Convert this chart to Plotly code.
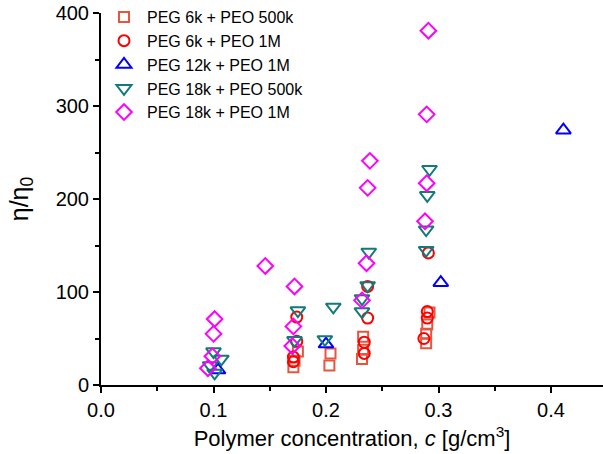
import plotly.graph_objects as go

# PEG 6k + PEO 500k
sq_x = [0.175, 0.172, 0.171, 0.204, 0.203, 0.233, 0.233, 0.232, 0.292, 0.290, 0.289, 0.289]
sq_y = [36, 26, 19, 34, 21, 52, 38, 28, 78, 65, 55, 45]
# PEG 6k + PEO 1M
ci_x = [0.174, 0.174, 0.171, 0.171, 0.237, 0.237, 0.234, 0.234, 0.291, 0.290, 0.290, 0.287]
ci_y = [73, 47, 30, 25, 106, 72, 46, 34, 142, 79, 72, 50]
# PEG 12k + PEO 1M
tu_x = [0.104, 0.200, 0.302, 0.411]
tu_y = [16, 44, 110, 274]
# PEG 18k + PEO 500k
td_x = [0.100, 0.107, 0.097, 0.101, 0.175, 0.172, 0.2065, 0.199, 0.238, 0.237, 0.232, 0.232, 0.292, 0.290, 0.289, 0.289]
td_y = [36, 28, 21, 13, 80, 48, 84, 49, 143, 107, 93, 79, 232, 204, 167, 145]
# PEG 18k + PEO 1M
di_x = [0.101, 0.100, 0.099, 0.095, 0.146, 0.172, 0.171, 0.170, 0.239, 0.237, 0.236, 0.232, 0.291, 0.2895, 0.2895, 0.288]
di_y = [71, 55, 31, 18, 128, 106, 63, 42, 241, 212, 131, 91, 381, 291, 217, 176]

x_ticks = [0.0, 0.1, 0.2, 0.3, 0.4]
x_ticklabels = ["0.0", "0.1", "0.2", "0.3", "0.4"]
y_ticks = [0, 100, 200, 300, 400]

series = [
    ("PEG 6k + PEO 500k", sq_x, sq_y, "square-open", "#E8553E", 10),
    ("PEG 6k + PEO 1M", ci_x, ci_y, "circle-open", "#FF0000", 11),
    ("PEG 12k + PEO 1M", tu_x, tu_y, "triangle-up-open", "#0000FF", 13),
    ("PEG 18k + PEO 500k", td_x, td_y, "triangle-down-open", "#127A7A", 13),
    ("PEG 18k + PEO 1M", di_x, di_y, "diamond-open", "#FF00FF", 12),
]

FONT = "Liberation Sans, Arial"

fig = go.Figure()
for name, xs, ys, sym, col, sz in series:
    fig.add_trace(go.Scatter(
        x=xs, y=ys, mode="markers", name=name,
        marker=dict(symbol=sym, size=sz, color=col, line=dict(width=2, color=col)),
    ))

axis_common = dict(
    showline=True, linecolor="black", linewidth=2,
    ticks="outside", ticklen=6, tickwidth=2, tickcolor="black",
    showgrid=False, zeroline=False, mirror=False,
    ticklabeloverflow="allow",
    tickfont=dict(family=FONT, size=20, color="black"),
)

fig.update_xaxes(
    range=[0, 0.4462], tickvals=x_ticks, ticktext=x_ticklabels,
    minor=dict(tickvals=[0.05, 0.15, 0.25, 0.35], ticks="outside", ticklen=4, tickwidth=2, tickcolor="black"),
    title=dict(text="Polymer concentration, <i>c</i> [g/cm<sup>3</sup>]",
               font=dict(family=FONT, size=22, color="black"), standoff=11),
    **axis_common,
)
fig.update_yaxes(
    range=[0, 400], tickvals=y_ticks,
    minor=dict(tickvals=[50, 150, 250, 350], ticks="outside", ticklen=4, tickwidth=2, tickcolor="black"),
    title=dict(text="η/η<sub>0</sub>",
               font=dict(family=FONT, size=25, color="black"), standoff=20),
    **axis_common,
)

fig.update_layout(
    width=603, height=454,
    margin=dict(l=101, r=0, t=13, b=69, autoexpand=False),
    plot_bgcolor="white", paper_bgcolor="white",
    showlegend=True,
    legend=dict(x=0.0, y=1.035, xanchor="left", yanchor="top",
                bgcolor="rgba(0,0,0,0)", borderwidth=0,
                font=dict(family=FONT, size=16, color="black"),
                itemwidth=36,
                itemsizing="trace", tracegroupgap=0),
)

fig.write_html("out.html", config={"displayModeBar": False},
               post_script="document.body.style.margin='0';document.body.style.overflow='hidden';")
